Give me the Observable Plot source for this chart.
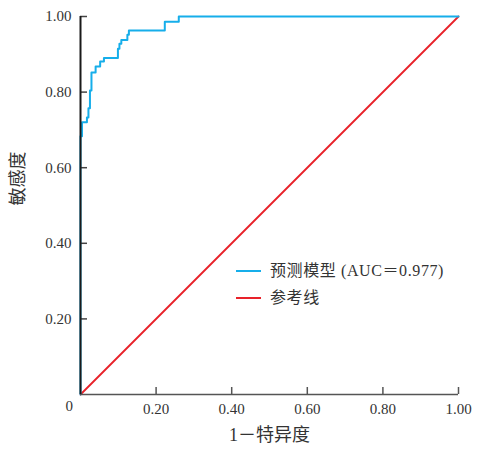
<!DOCTYPE html>
<html><head><meta charset="utf-8">
<script src="https://cdn.jsdelivr.net/npm/d3@7"></script>
<script src="https://cdn.jsdelivr.net/npm/@observablehq/plot@0.6"></script>
<style>
html,body{margin:0;padding:0;background:#fff;}
#wrap{position:relative;width:477px;height:449px;overflow:hidden;}
.leg{position:absolute;display:flex;align-items:center;font-family:"Liberation Serif","Noto Sans CJK SC",serif;font-size:16px;color:#333;letter-spacing:0.6px;white-space:nowrap;line-height:20px;}
.sw{display:inline-block;width:25px;height:2px;margin-right:9px;}
</style></head><body><div id="wrap"></div>
<script>
// ROC curve vertices (1 - specificity, sensitivity)
const fpr = [0, 0, 0.004, 0.004, 0.017, 0.017, 0.021, 0.021, 0.025, 0.025, 0.029, 0.029, 0.040, 0.040, 0.052, 0.052, 0.062, 0.062, 0.099, 0.099, 0.103, 0.103, 0.108, 0.108, 0.124, 0.124, 0.128, 0.128, 0.223, 0.223, 0.260, 0.260, 1.0];
const tpr = [0, 0.683, 0.683, 0.720, 0.720, 0.733, 0.733, 0.757, 0.757, 0.804, 0.804, 0.852, 0.852, 0.868, 0.868, 0.881, 0.881, 0.890, 0.890, 0.915, 0.915, 0.928, 0.928, 0.938, 0.938, 0.952, 0.952, 0.963, 0.963, 0.986, 0.986, 1.0, 1.0];
// reference (diagonal) line
const refX = [0, 1];
const refY = [0, 1];
const xTicks = [0.2, 0.4, 0.6, 0.8, 1.0];
const yTicks = [0.2, 0.4, 0.6, 0.8, 1.0];
const originLabel = "0";
const seriesNames = ["预测模型 (AUC＝0.977)", "参考线"];
const seriesColors = ["#16aeea", "#e8222a"];
const xLabel = "1－特异度";
const yLabel = "敏感度";

const roc = fpr.map((x, i) => ({x, y: tpr[i]}));
const ref = refX.map((x, i) => ({x, y: refY[i]}));
const fmt = d3.format(".2f");

const chart = Plot.plot({
  width: 477, height: 449,
  marginLeft: 80, marginRight: 19, marginTop: 16, marginBottom: 55,
  style: {fontFamily: "'Liberation Serif', 'Noto Sans CJK SC', serif", fontSize: "15px", color: "#333", background: "white", overflow: "visible"},
  x: {domain: [0, 1]},
  y: {domain: [0, 1]},
  marks: [
    Plot.line(ref, {x: "x", y: "y", stroke: seriesColors[1], strokeWidth: 1.8}),
    Plot.line(roc, {x: "x", y: "y", stroke: seriesColors[0], strokeWidth: 2}),
    Plot.tickX(xTicks, {x: d => d, insetTop: 371, stroke: "#555", strokeWidth: 1.5}),
    Plot.tickY(yTicks, {y: d => d, insetRight: 371, stroke: "#444", strokeWidth: 1.5}),
    Plot.ruleY([0], {stroke: "#555", strokeWidth: 1.5}),
    Plot.ruleX([0], {stroke: "#1a1a1a", strokeWidth: 2}),
    Plot.axisX(xTicks, {tickSize: 0, tickPadding: 9, tickFormat: fmt, label: null, letterSpacing: "1.8px", fill: "#333"}),
    Plot.axisY(yTicks, {tickSize: 0, tickPadding: 9, tickFormat: fmt, label: null, letterSpacing: "1.8px", fill: "#333"}),
    Plot.text([originLabel], {frameAnchor: "bottom-left", dx: -15, dy: 16, fill: "#333", fontSize: 15}),
    Plot.text([xLabel], {frameAnchor: "bottom", dy: 46, fontSize: 18, fill: "#333"}),
    Plot.text([yLabel], {frameAnchor: "left", dx: -62, rotate: -90, fontSize: 18, fill: "#333"})
  ]
});
const wrap = document.getElementById("wrap");
wrap.appendChild(chart);
const legTops = [261, 288];
seriesNames.forEach((name, i) => {
  const d = document.createElement("div");
  d.className = "leg";
  d.style.left = "236px";
  d.style.top = legTops[i] + "px";
  const sw = document.createElement("span");
  sw.className = "sw";
  sw.style.background = seriesColors[i];
  d.appendChild(sw);
  d.appendChild(document.createTextNode(name));
  wrap.appendChild(d);
});
</script></body></html>
